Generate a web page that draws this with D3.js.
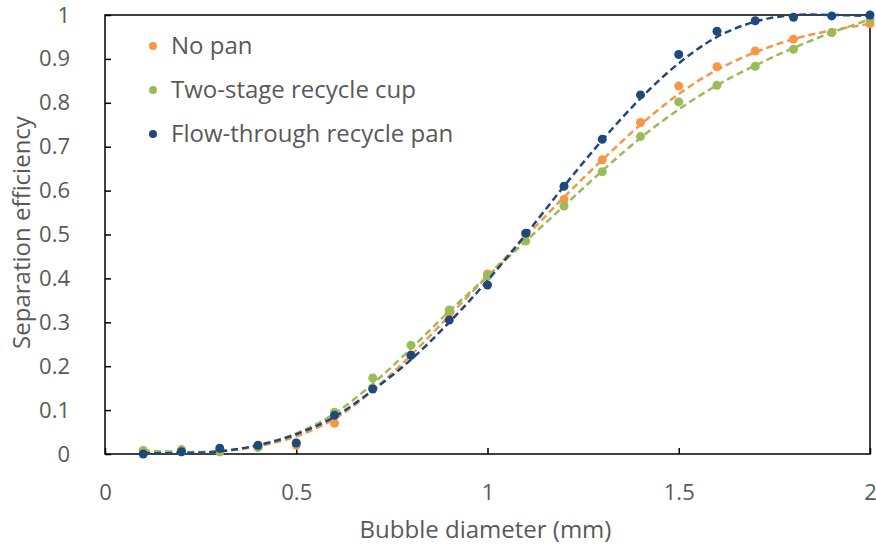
<!DOCTYPE html>
<html lang="en">
<head>
    <meta charset="UTF-8"/>
    <title>Separation efficiency</title>
    <script src="https://d3js.org/d3.v7.min.js" charset="utf-8"></script>
    <style type="text/css">
        body { margin: 0; background: #fff; }
        text { font-family: "Open Sans", Lato, sans-serif; fill: #595959; }
        .fit { fill: none; stroke-width: 2.5px; stroke-dasharray: 7 4; }
    </style>
</head>
<body>
<div id="chart"></div>
<script type="text/javascript">

    // bubble diameter (mm)
    var diameters = [0.1, 0.2, 0.3, 0.4, 0.5, 0.6, 0.7, 0.8, 0.9, 1.0,
                     1.1, 1.2, 1.3, 1.4, 1.5, 1.6, 1.7, 1.8, 1.9, 2.0];

    var seriesNames = ["No pan", "Two-stage recycle cup", "Flow-through recycle pan"];
    var seriesColors = ["#f79646", "#9bbb59", "#1f497d"];

    // measured points
    var noPan = [0.005, 0.005, 0.005, 0.015, 0.02, 0.07, 0.15, 0.225, 0.32, 0.41,
                 0.5, 0.58, 0.67, 0.755, 0.838, 0.882, 0.918, 0.945, 0.96, 0.98];
    var twoStage = [0.008, 0.01, 0.005, 0.015, 0.025, 0.095, 0.173, 0.248, 0.328, 0.405,
                    0.485, 0.565, 0.643, 0.723, 0.802, 0.84, 0.883, 0.922, 0.96, 0.99];
    var flowThrough = [0.0, 0.005, 0.013, 0.02, 0.025, 0.088, 0.148, 0.225, 0.305, 0.385,
                       0.503, 0.61, 0.717, 0.818, 0.91, 0.963, 0.987, 0.995, 0.998, 1.0];

    // dashed trend lines at the same diameters
    var noPanFit = [0.005, 0.004, 0.006, 0.018, 0.04, 0.08, 0.145, 0.225, 0.315, 0.405,
                    0.495, 0.585, 0.67, 0.75, 0.82, 0.875, 0.915, 0.945, 0.965, 0.98];
    var twoStageFit = [0.008, 0.005, 0.006, 0.02, 0.047, 0.092, 0.16, 0.24, 0.325, 0.405,
                       0.485, 0.565, 0.645, 0.72, 0.785, 0.84, 0.885, 0.925, 0.96, 0.99];
    var flowThroughFit = [0.002, 0.002, 0.006, 0.02, 0.045, 0.085, 0.145, 0.215, 0.3, 0.395,
                          0.5, 0.61, 0.715, 0.81, 0.89, 0.95, 0.985, 1.0, 1.0, 0.998];

    var xTicks = [0, 0.5, 1, 1.5, 2];
    var yTicks = [0, 0.1, 0.2, 0.3, 0.4, 0.5, 0.6, 0.7, 0.8, 0.9, 1];

    var points = [noPan, twoStage, flowThrough];
    var fits = [noPanFit, twoStageFit, flowThroughFit];

    var margin = {top: 15, right: 6, bottom: 94, left: 105},
        width = 876 - margin.left - margin.right,
        height = 548 - margin.top - margin.bottom;

    var svg = d3.select("#chart")
        .append("svg")
        .attr("width", width + margin.left + margin.right)
        .attr("height", height + margin.top + margin.bottom)
        .append("g")
        .attr("transform", "translate(" + margin.left + "," + margin.top + ")");

    var x = d3.scaleLinear().domain([0, 2]).range([0, width]);
    var y = d3.scaleLinear().domain([0, 1]).range([height, 0]);

    // frame
    svg.append("rect")
        .attr("x", 0).attr("y", 0)
        .attr("width", width).attr("height", height)
        .style("fill", "none")
        .style("stroke", "#000")
        .style("stroke-width", 1.5);

    // y axis, ticks pointing inward
    var yAxis = svg.append("g")
        .call(d3.axisLeft(y).tickValues(yTicks).tickSize(-6).tickPadding(35)
            .tickFormat(function(d) { return d3.format("~g")(d); }));
    yAxis.select(".domain").remove();
    yAxis.selectAll("line").style("stroke", "#000").style("stroke-width", 1.5);
    yAxis.selectAll("text").style("font-size", "22px").style("fill", "#595959")
        .style("font-family", "'Open Sans', sans-serif");

    // x axis, ticks pointing inward
    var xAxis = svg.append("g")
        .attr("transform", "translate(0," + height + ")")
        .call(d3.axisBottom(x).tickValues(xTicks).tickSize(-6).tickPadding(30)
            .tickFormat(function(d) { return d3.format("~g")(d); }));
    xAxis.select(".domain").remove();
    xAxis.selectAll("line").style("stroke", "#000").style("stroke-width", 1.5);
    xAxis.selectAll("text").style("font-size", "22px").style("fill", "#595959")
        .style("font-family", "'Open Sans', sans-serif");

    svg.append("text")
        .attr("x", width / 2 - 2)
        .attr("y", height + 84)
        .attr("text-anchor", "middle")
        .style("font-size", "24px")
        .text("Bubble diameter (mm)");

    svg.append("text")
        .attr("transform", "rotate(-90)")
        .attr("x", -height / 2 + 2)
        .attr("y", -75)
        .attr("text-anchor", "middle")
        .style("font-size", "24px")
        .text("Separation efficiency");

    var line = d3.line()
        .x(function(d) { return x(d[0]); })
        .y(function(d) { return y(d[1]); })
        .curve(d3.curveCatmullRom);

    seriesNames.forEach(function(name, i) {
        var pts = diameters.map(function(d, j) { return [d, points[i][j]]; });
        var fit = diameters.map(function(d, j) { return [d, fits[i][j]]; });

        svg.selectAll(".dot" + i)
            .data(pts)
            .enter()
            .append("circle")
            .attr("class", "dot" + i)
            .attr("cx", function(d) { return x(d[0]); })
            .attr("cy", function(d) { return y(d[1]); })
            .attr("r", 4.5)
            .style("fill", seriesColors[i]);

        svg.append("path")
            .datum(fit)
            .attr("class", "fit")
            .attr("d", line)
            .style("stroke", seriesColors[i]);
    });

    // legend
    var legend = svg.selectAll(".legend")
        .data(seriesNames)
        .enter()
        .append("g")
        .attr("transform", function(d, i) { return "translate(48," + (31 + i * 44) + ")"; });

    legend.append("circle")
        .attr("r", 4)
        .style("fill", function(d, i) { return seriesColors[i]; });

    legend.append("text")
        .attr("x", 18)
        .attr("y", 8)
        .style("font-size", "24px")
        .text(function(d) { return d; });

</script>
</body>
</html>
